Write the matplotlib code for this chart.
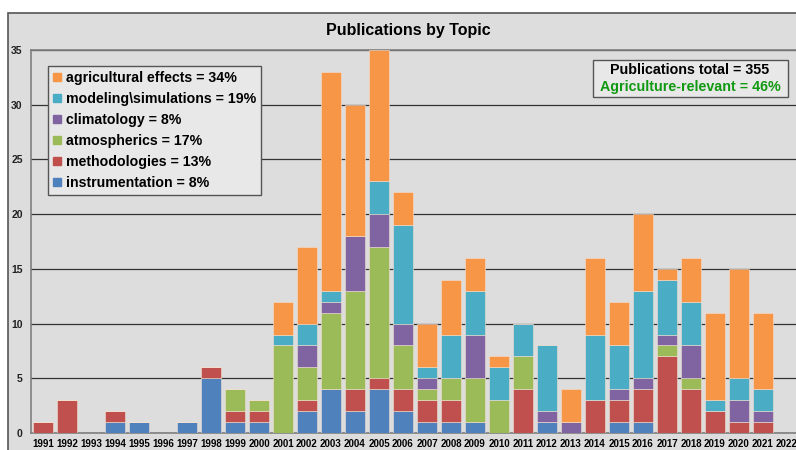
import matplotlib
matplotlib.use("Agg")
import matplotlib.pyplot as plt
from matplotlib.patches import Rectangle
from matplotlib.lines import Line2D
import numpy as np

plt.rcParams['font.family'] = ['Liberation Sans', 'DejaVu Sans']

years = [str(y) for y in range(1991, 2023)]

instrumentation = [0, 0, 0, 1, 1, 0, 1, 5, 1, 1, 0, 2, 4, 2, 4, 2, 1, 1, 1, 0, 0, 1, 0, 0, 1, 1, 0, 0, 0, 0, 0, 0]
methodologies   = [1, 3, 0, 1, 0, 0, 0, 1, 1, 1, 0, 1, 0, 2, 1, 2, 2, 2, 0, 0, 4, 0, 0, 3, 2, 3, 7, 4, 2, 1, 1, 0]
atmospherics    = [0, 0, 0, 0, 0, 0, 0, 0, 2, 1, 8, 3, 7, 9, 12, 4, 1, 2, 4, 3, 3, 0, 0, 0, 0, 0, 1, 1, 0, 0, 0, 0]
climatology     = [0, 0, 0, 0, 0, 0, 0, 0, 0, 0, 0, 2, 1, 5, 3, 2, 1, 0, 4, 0, 0, 1, 1, 0, 1, 1, 1, 3, 0, 2, 1, 0]
modeling        = [0, 0, 0, 0, 0, 0, 0, 0, 0, 0, 1, 2, 1, 0, 3, 9, 1, 4, 4, 3, 3, 6, 0, 6, 4, 8, 5, 4, 1, 2, 2, 0]
agricultural    = [0, 0, 0, 0, 0, 0, 0, 0, 0, 0, 3, 7, 20, 12, 12, 3, 4, 5, 3, 1, 0, 0, 3, 7, 4, 7, 1, 4, 8, 10, 7, 0]

series = [
    ("instrumentation = 8%", instrumentation, "#4F81BD"),
    ("methodologies = 13%", methodologies, "#C0504D"),
    ("atmospherics = 17%", atmospherics, "#9BBB59"),
    ("climatology = 8%", climatology, "#8064A2"),
    ("modeling\\simulations = 19%", modeling, "#4BACC6"),
    ("agricultural effects = 34%", agricultural, "#F79646"),
]

bg = "#DDDDDD"
fig = plt.figure(figsize=(7.96, 4.5), dpi=100, facecolor="white")
# outer chart frame
fig.patches.append(Rectangle((8 / 796, -0.05), 1.0, 1 - 13 / 450 + 0.05,
                             transform=fig.transFigure, facecolor=bg,
                             edgecolor="#555555", linewidth=1.2, zorder=-5))

ax = fig.add_axes([31 / 796, 17 / 450, 768 / 796, 383 / 450])
ax.set_zorder(2)
ax.set_facecolor(bg)

x = np.arange(len(years))
bottom = np.zeros(len(years))
for label, vals, color in series:
    vals = np.array(vals, dtype=float)
    ax.bar(x, vals, bottom=bottom, width=0.83, color=color,
           edgecolor="#F2E0D0", linewidth=0.4, zorder=3)
    bottom += vals

ax.set_xlim(-0.5, len(years) - 0.5)
ax.set_ylim(0, 35)
ax.set_yticks(range(0, 36, 5))
ax.grid(axis="y", color="#333333", linewidth=0.9, zorder=1)
ax.tick_params(length=0)
ax.set_xticks(x)
ax.set_xticklabels(years, fontsize=7, fontweight="bold")
ax.tick_params(axis="x", pad=4)
for t in ax.get_yticklabels():
    t.set_fontsize(7.5)
    t.set_fontweight("bold")
    t.set_color("#222222")
ax.tick_params(axis="y", pad=6)
for s in ["left", "bottom", "top"]:
    ax.spines[s].set_color("#808080")
    ax.spines[s].set_linewidth(1.2)
ax.spines["right"].set_visible(False)

fig.text(0.513, 1 - 30 / 450, "Publications by Topic", ha="center", va="center",
         fontsize=11.5, fontweight="bold", zorder=3)

handles = [Line2D([], [], marker="s", linestyle="", markersize=6,
                  color=c) for _, _, c in series][::-1]
labels = [l for l, _, _ in series][::-1]
leg = ax.legend(handles, labels, loc="upper left", bbox_to_anchor=(0.022, 0.959),
                borderaxespad=0, frameon=True, fancybox=False,
                handlelength=0.6, handletextpad=0.3,
                labelspacing=0.5, borderpad=0.35,
                prop={"size": 10.2, "weight": "bold"})
leg.get_frame().set_facecolor("#E8E8E8")
leg.get_frame().set_edgecolor("#555555")
leg.get_frame().set_linewidth(1.0)
leg.get_frame().set_alpha(1)
leg.set_zorder(5)

# summary box
ax.add_patch(Rectangle(((593 - 31) / 768, (433 - 97) / 383),
                       195 / 768, 37 / 383, transform=ax.transAxes,
                       facecolor="#E8E8E8", edgecolor="#555555", linewidth=1.0,
                       zorder=5, clip_on=False))
ax.text((690 - 31) / 768, (433 - 70) / 383, "Publications total = 355",
        transform=ax.transAxes, ha="center", va="center", fontsize=10.3,
        fontweight="bold", color="black", zorder=6)
ax.text((690 - 31) / 768, (433 - 87) / 383, "Agriculture-relevant = 46%",
        transform=ax.transAxes, ha="center", va="center", fontsize=10.3,
        fontweight="bold", color="#119911", zorder=6)

fig.savefig("out.png", dpi=100, facecolor="white")
